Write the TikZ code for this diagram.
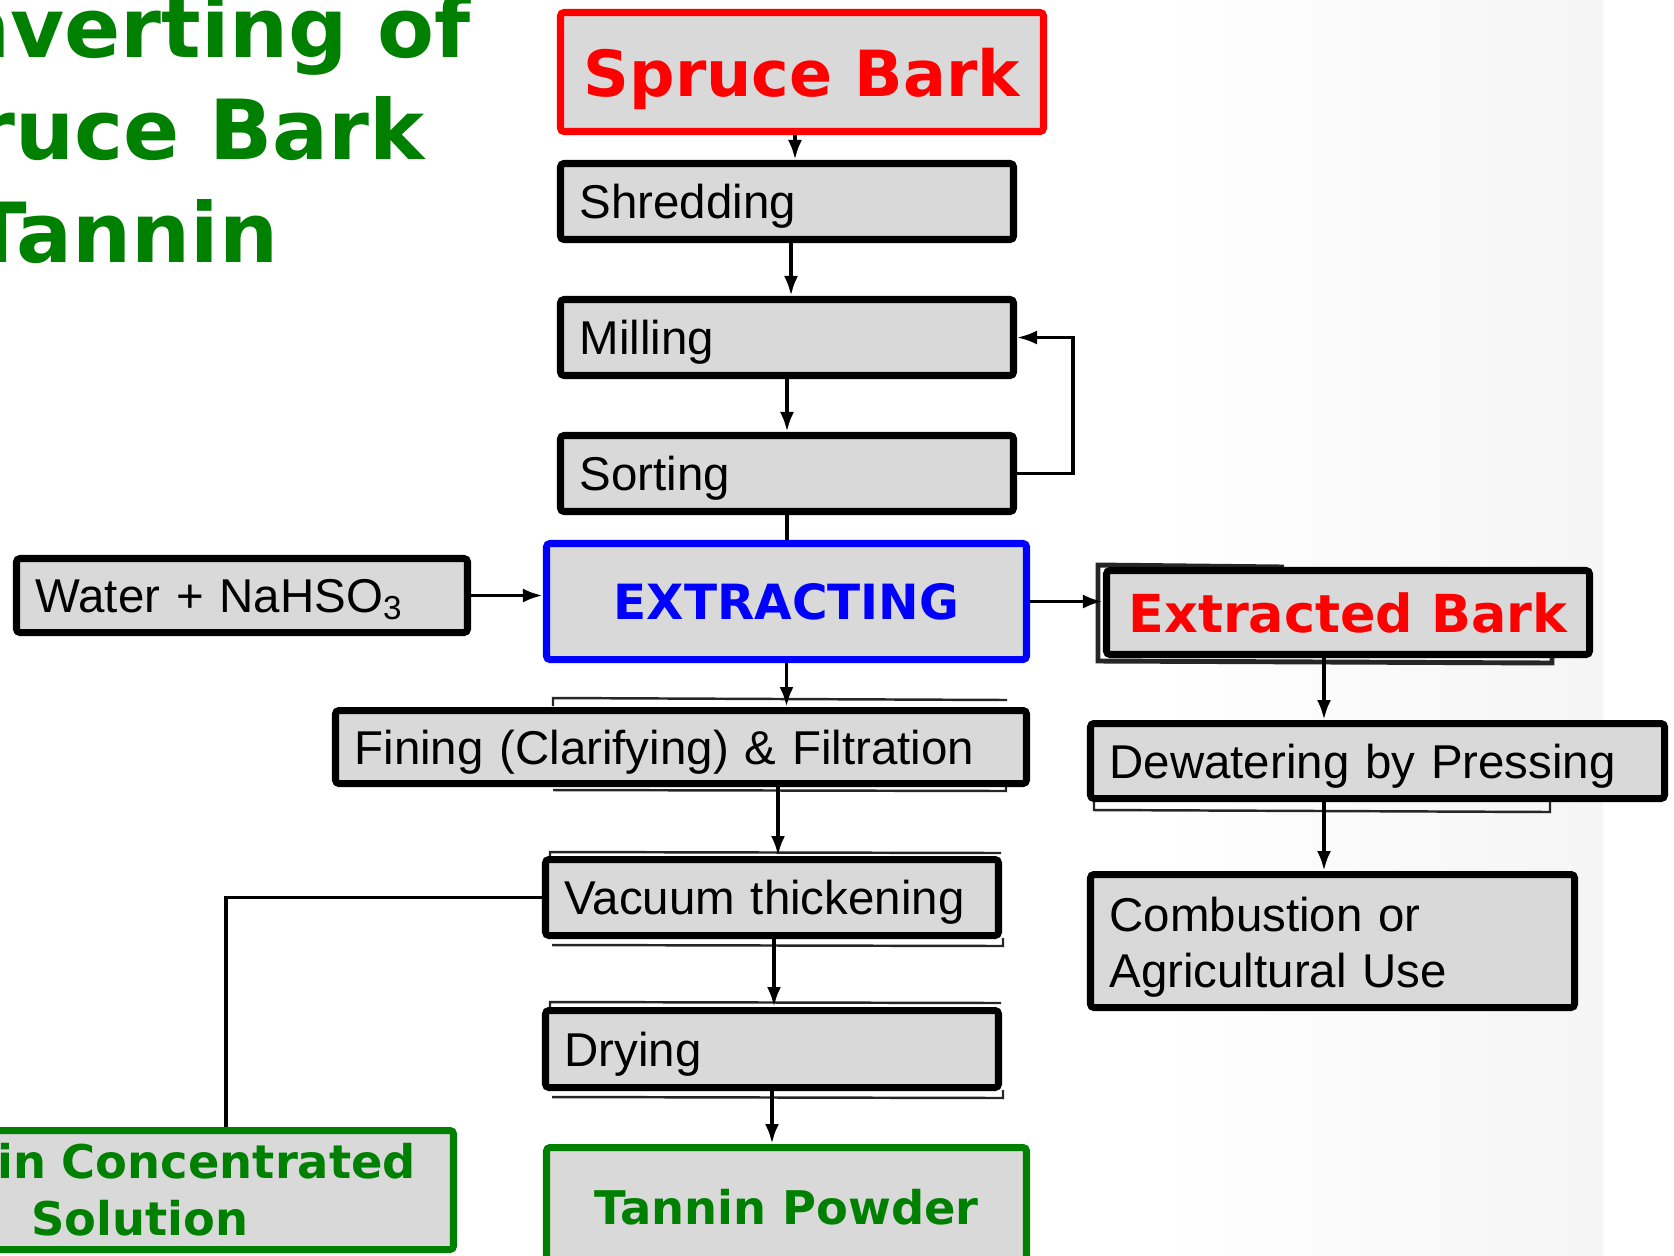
\documentclass[tikz,border=0pt]{standalone}
\usepackage{fontspec}
\setmainfont{Liberation Sans}
\newfontfamily\headfont{DejaVu Sans}
\usepackage{tikz}
\usetikzlibrary{arrows.meta,positioning,backgrounds}
\definecolor{boxfill}{HTML}{D9D9D9}
\definecolor{leafgreen}{HTML}{008000}
\definecolor{barkred}{HTML}{FF0000}
\definecolor{extblue}{HTML}{0000FF}

\begin{document}
\begin{tikzpicture}[
  font=\fontsize{13.5pt}{16pt}\selectfont,
  stepbox/.style={rectangle,rounded corners=1pt,draw=black,line width=2pt,fill=boxfill,
              inner xsep=0.19cm,inner ysep=0pt,text depth=0pt,align=left,minimum height=0.76cm},
  keybox/.style={rectangle,rounded corners=1pt,line width=2pt,fill=boxfill,
              inner sep=0pt,text depth=0pt,align=center,
              font=\headfont\bfseries\fontsize{#1}{16.2pt}\selectfont},
  arr/.style={-{Latex[length=2mm,width=1.4mm]},draw=black,line width=1.1pt},
  link/.style={draw=black,line width=1pt},
  ghost/.style={draw=black!85,line width=0.7pt},
  title/.style={font=\headfont\bfseries\fontsize{23.6pt}{28pt}\selectfont,
              text=leafgreen,inner sep=0pt,anchor=base east}
]
\useasboundingbox (0,0) rectangle (16.74,-12.55);
\clip (0,0) rectangle (16.74,-12.55);

% --- heading
\node[title] (head1) at (4.71,-0.57) {nverting of};
\node[title] (head2) at (4.25,-1.59) {ruce Bark};
\node[title] (head3) at (2.79,-2.62) {Tannin};

% --- bark preparation
\node[keybox=18.1pt,draw=barkred,text=barkred,minimum width=4.83cm,minimum height=1.19cm]
      (spruce) at (8.02,-0.72) {Spruce Bark};
\node[stepbox,text width=4.15cm] (shred) at (7.87,-2.015) {Shredding};
\node[stepbox,text width=4.15cm] (mill)  at (7.87,-3.375) {Milling};
\node[stepbox,text width=4.15cm] (sort)  at (7.87,-4.735) {Sorting};

% --- extraction
\node[stepbox,text width=4.13cm,minimum height=0.74cm] (water) at (2.42,-5.955) {Water + NaHSO\textsubscript{3}};
\node[keybox=13.8pt,draw=extblue,text=extblue,minimum width=4.80cm,minimum height=1.16cm]
      (extract) at (7.865,-6.015) {EXTRACTING};
\node[keybox=14.9pt,draw=black,text=barkred,minimum width=4.83cm,minimum height=0.84cm]
      (extracted) at (13.48,-6.125) {Extracted Bark};

% --- tannin line
\node[stepbox,text width=6.53cm,minimum height=0.73cm] (fining) at (6.81,-7.47) {Fining (Clarifying) \& Filtration};
\node[stepbox,text width=4.15cm] (vacuum) at (7.72,-8.975) {Vacuum thickening};
\node[stepbox,text width=4.15cm,minimum height=0.77cm] (drying) at (7.72,-10.49) {Drying};
\node[keybox=13.2pt,draw=leafgreen,text=leafgreen,minimum width=4.80cm,minimum height=1.19cm]
      (powder) at (7.865,-12.07) {Tannin Powder};
\node[keybox=13.2pt,draw=leafgreen,text=leafgreen,align=left,inner xsep=0.19cm,
      text depth={},text width=4.37cm,minimum height=1.19cm]
      (conc) at (2.16,-11.90) {in Concentrated\\\hspace*{0.34cm}Solution};

% --- bark residue
\node[stepbox,text width=5.36cm,minimum height=0.75cm] (dewater) at (13.775,-7.61) {Dewatering by Pressing};
\node[stepbox,text width=4.46cm,text depth={},text height=0.47cm,minimum height=1.33cm]
      (combust) at (13.325,-9.41) {Combustion or\\Agricultural Use};

\coordinate (bend) at (2.26,-8.93);
\coordinate (drop) at (13.24,-6.6);

\draw[arr] ([xshift=0.08cm]spruce.south -| shred.north) -- ([xshift=0.08cm]shred.north);
\draw[arr] ([xshift=0.04cm]shred.south) -- ([xshift=0.04cm]mill.north);
\draw[arr] (mill.south) -- (sort.north);
\draw[link] (sort.south) -- (sort.south |- extract.north);
\draw[arr,line width=0.9pt] (sort.east) -- ++(0.56,0) |- (mill.east);

\draw[arr] (water.east) -- (water.east -| extract.west);
\draw[arr] (extract.east) -- (extract.east -| extracted.west);
\draw[arr] (extract.south) -- (extract.south |- fining.north);
\draw[arr] ([xshift=0.06cm]fining.south -| vacuum.north) -- ([xshift=0.06cm]vacuum.north);
\draw[arr] ([xshift=0.02cm]vacuum.south) -- ([xshift=0.02cm]drying.north);
\draw[arr] (drying.south) -- (drying.south |- powder.north);
\draw[link] (vacuum.west) -- (vacuum.west -| bend) -- (bend |- conc.north);

\draw[arr] (extracted.south -| drop) -- (dewater.north -| drop);
\draw[arr] (dewater.south -| drop) -- (combust.north -| drop);

\begin{scope}[on background layer]
  \shade[left color=white,right color=black!4] (11.6,0) rectangle (16.03,-12.55);
  % scan remnants of the old boxes
  \draw[ghost] (5.53,-7.06) -- (5.53,-6.98) -- (10.07,-7.00);
  \draw[ghost] (5.53,-7.90) -- (10.06,-7.91) -- (10.06,-7.86);
  \draw[ghost,line width=1.4pt] (12.84,-5.67) -- (10.98,-5.65) -- (10.98,-6.61) -- (15.52,-6.63) -- (15.52,-6.57);
  \draw[ghost] (10.94,-8.00) -- (10.94,-8.10) -- (15.50,-8.12) -- (15.50,-8.00);
  \draw[ghost] (5.50,-8.60) -- (5.50,-8.52) -- (10.01,-8.53);
  \draw[ghost] (5.52,-9.45) -- (10.03,-9.46) -- (10.03,-9.38);
  \draw[ghost] (5.50,-10.10) -- (5.50,-10.02) -- (10.01,-10.03);
  \draw[ghost] (5.52,-10.97) -- (10.03,-10.98) -- (10.03,-10.90);
\end{scope}
\end{tikzpicture}
\end{document}
